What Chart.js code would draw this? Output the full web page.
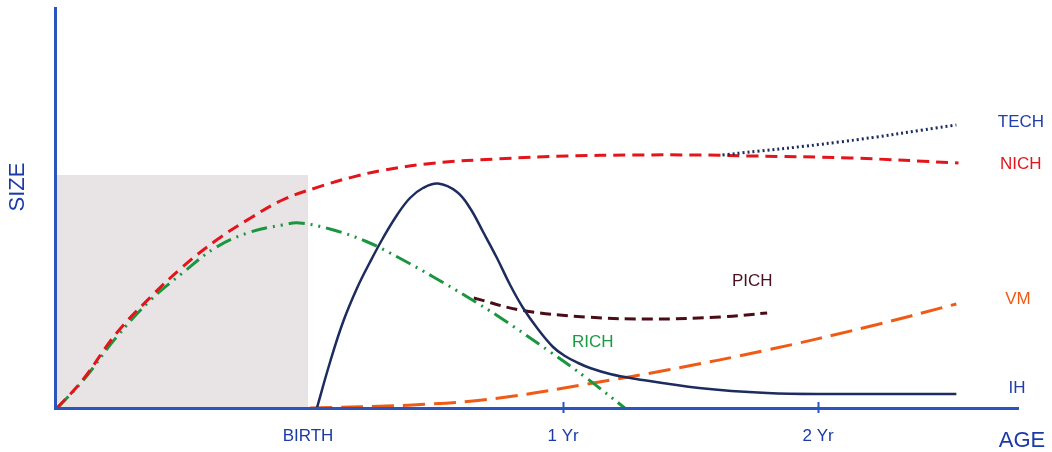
<!DOCTYPE html>
<html lang="en">
<head>
<meta charset="UTF-8" />
<title>Size vs Age</title>
<script src="https://cdn.jsdelivr.net/npm/chart.js"></script>
<style>
  html, body { margin: 0; padding: 0; background: #fff; }
  #wrap { width: 1052px; height: 452px; }
</style>
</head>
<body>
<div id="wrap"><canvas id="sizeChart"></canvas></div>
<script>
// age in months from birth (negative = before birth), size in arbitrary units
const xTicks = [0, 12, 24];
const xTickLabels = ['BIRTH', '1 Yr', '2 Yr'];
const tickMarkAges = [12, 24];

const shadeAge = [-11.9, 0];
const shadeSize = [58.25, 58.25];

const nichAge  = [-11.8, -10.6, -9.0, -7.4, -5.9, -4.3, -2.7, -1.2, 0.4, 2.0, 3.5, 5.9, 9.0, 12.2, 15.3, 18.4, 20.9, 25.5, 30.6];
const nichSize = [0, 7, 18.75, 27.75, 35.25, 42, 47.5, 52, 55.1, 57.6, 59.4, 61.2, 62.3, 63, 63.25, 63.25, 63, 62.5, 61.25];

const techAge  = [19.5, 25.0, 30.5];
const techSize = [63.25, 66.5, 70.75];

const richAge  = [-11.8, -10.6, -9.0, -7.4, -5.9, -4.3, -2.7, -1.2, -0.4, 1.2, 2.8, 4.3, 5.9, 7.5, 9.0, 11.4, 13.1, 14.9];
const richSize = [0, 6.75, 17.75, 27, 33.75, 40.25, 44, 45.75, 46.25, 44.5, 41.5, 37.5, 32.75, 27.75, 22.75, 14, 7.5, 0];

const ihAge  = [0.42, 1.04, 1.65, 2.31, 2.92, 3.53, 4.19, 4.8, 5.41, 6.12, 7.01, 7.62, 8.24, 8.89, 9.51, 10.12, 10.78, 11.53, 12.09, 12.71, 13.27, 14.21, 15.29, 18.4, 21.6, 24.7, 30.5];
const ihSize = [0, 11.5, 21.5, 30, 36.5, 42.5, 48.25, 52.5, 55, 56.1, 54, 50, 44, 37.5, 30.75, 25, 20, 15.25, 13, 11.25, 10, 8.5, 7.4, 5, 3.75, 3.5, 3.5];

const pichAge  = [7.8, 10.0, 13.1, 16.2, 19.4, 21.6];
const pichSize = [27.5, 24.5, 22.75, 22.25, 22.75, 23.75];

const vmAge  = [0.1, 4.9, 9.0, 13.7, 16.9, 21.6, 26.3, 30.5];
const vmSize = [0, 0.75, 2.5, 6.5, 9.5, 14.5, 20.25, 26];

// series name labels: [text, age, size, align, colour]
const seriesLabels = [
  ['TECH', 32.45, 71.3, 'left', '#1f3fae'],
  ['NICH', 32.55, 60.8, 'left', '#e0171c'],
  ['PICH', 20.9, 31.7, 'center', '#4a1020'],
  ['VM',   32.8, 27.2, 'left', '#f05a14'],
  ['RICH', 13.4, 16.5, 'center', '#1a9a44'],
  ['IH',   32.95, 5, 'left', '#1f3fae']
];

const axisBlue = '#2b54bd';
const textBlue = '#1c3aa6';
const font = "'Liberation Sans', Arial, sans-serif";

const pts = (xs, ys) => xs.map((x, i) => ({ x, y: ys[i] }));

const curve = (data, color, width, dash, order) => ({
  data, borderColor: color, borderWidth: width, borderDash: dash,
  fill: false, pointRadius: 0, tension: 0.4, order
});

const annotate = {
  id: 'annotate',
  afterDraw(chart) {
    const { ctx, scales: { x, y }, chartArea } = chart;
    ctx.save();
    // tick marks on the age axis
    ctx.strokeStyle = axisBlue;
    ctx.lineWidth = 2;
    tickMarkAges.forEach(a => {
      const px = Math.round(x.getPixelForValue(a)) + 0.5;
      ctx.beginPath();
      ctx.moveTo(px, chartArea.bottom - 6);
      ctx.lineTo(px, chartArea.bottom + 5);
      ctx.stroke();
    });
    // curve names
    ctx.font = '17px ' + font;
    ctx.textBaseline = 'middle';
    seriesLabels.forEach(([t, a, s, align, c]) => {
      ctx.fillStyle = c;
      ctx.textAlign = align;
      ctx.fillText(t, x.getPixelForValue(a), y.getPixelForValue(s));
    });
    // axis titles
    ctx.fillStyle = textBlue;
    ctx.font = '22px ' + font;
    ctx.textAlign = 'center';
    ctx.fillText('AGE', 1022, 441);
    ctx.translate(18, 187);
    ctx.rotate(-Math.PI / 2);
    ctx.fillText('SIZE', 0, 0);
    ctx.restore();
  }
};

new Chart(document.getElementById('sizeChart'), {
  type: 'line',
  data: {
    datasets: [
      { data: pts(shadeAge, shadeSize), fill: 'origin', backgroundColor: '#e8e4e6',
        borderWidth: 0, pointRadius: 0, tension: 0, order: 10 },
      curve(pts(techAge, techSize), '#1c2c5e', 3, [2, 3], 1),
      curve(pts(nichAge, nichSize), '#e3151b', 3, [12, 7], 2),
      curve(pts(richAge, richSize), '#1a9640', 3, [16, 6, 2, 6, 2, 6], 3),
      curve(pts(pichAge, pichSize), '#4a0d18', 3, [11, 6], 4),
      curve(pts(vmAge, vmSize), '#f05a14', 3, [22, 9], 5),
      curve(pts(ihAge, ihSize), '#1c2c5e', 2.5, [], 0)
    ]
  },
  options: {
    responsive: true,
    maintainAspectRatio: false,
    animation: false,
    layout: { padding: { top: 8, right: 34, left: 0, bottom: 0 } },
    plugins: { legend: { display: false }, tooltip: { enabled: false } },
    scales: {
      x: {
        type: 'linear', min: -11.9, max: 33.4,
        afterBuildTicks: s => { s.ticks = xTicks.map(v => ({ value: v })); },
        afterFit: s => { s.height = 44; },
        grid: { display: false, drawTicks: false },
        border: { display: true, color: axisBlue, width: 3, z: 1 },
        ticks: {
          padding: 18, color: textBlue, autoSkip: false, maxRotation: 0,
          font: { family: font, size: 17 },
          callback: (v, i) => xTickLabels[i]
        }
      },
      y: {
        min: 0, max: 100,
        afterFit: s => { s.width = 55; },
        grid: { display: false, drawTicks: false },
        border: { display: true, color: axisBlue, width: 3, z: 1 },
        ticks: { display: false }
      }
    }
  },
  plugins: [annotate]
});
</script>
</body>
</html>
